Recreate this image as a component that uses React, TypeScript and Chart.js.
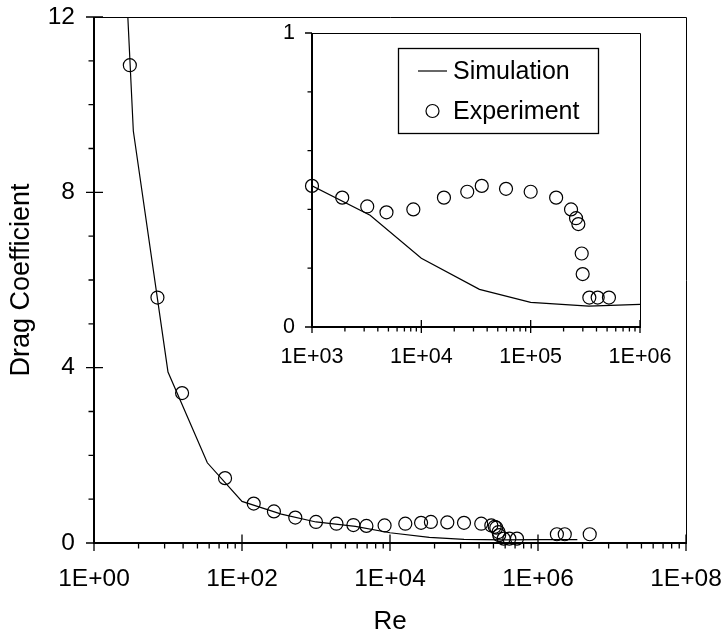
import React, { useEffect, useRef } from "react";
import { Chart, registerables } from "chart.js";

Chart.register(...registerables);

// ---- data ----
const simRe = [1, 3.4, 10, 34, 100, 340, 1000, 3400, 10000, 34000, 100000, 340000, 1000000, 3400000];
const simCd = [28, 9.4, 3.9, 1.83, 0.95, 0.66, 0.48, 0.38, 0.234, 0.128, 0.084, 0.071, 0.077, 0.077];

const expRe = [3.05, 7.2, 15.5, 59, 144, 270, 525, 1000, 1890, 3200, 4800, 8450, 16100, 26300, 35700, 59500, 100000, 171000, 234000, 260000, 273000, 293000, 299000, 344000, 410000, 520000, 1800000, 2300000, 5000000];
const expCd = [10.9, 5.6, 3.42, 1.48, 0.9, 0.72, 0.58, 0.48, 0.44, 0.41, 0.39, 0.4, 0.44, 0.46, 0.48, 0.47, 0.46, 0.44, 0.4, 0.37, 0.35, 0.25, 0.18, 0.1, 0.1, 0.1, 0.2, 0.2, 0.2];

const seriesLabels = ["Simulation", "Experiment"];
const mainXTicks = [1, 1e2, 1e4, 1e6, 1e8];
const mainYTicks = [0, 4, 8, 12];
const insetXTicks = [1e3, 1e4, 1e5, 1e6];
const insetYTicks = [0, 1];
const xTitle = "Re";
const yTitle = "Drag Coefficient";

const FONT = "'Liberation Sans', Arial, Helvetica, sans-serif";

function fmtExp(v: number) {
  const e = Math.round(Math.log10(v));
  return "1E+" + String(e).padStart(2, "0");
}

// minor tick positions (axis decoration)
const mainMinorX: number[] = [];
for (let n = 0; n < 4; n++) for (let k = 2; k <= 9; k++) mainMinorX.push(Math.pow(100, n) * k * k);
const mainMinorY: number[] = [];
for (let v = 1; v < 12; v++) if (v % 4 !== 0) mainMinorY.push(v);
const insetMinorX: number[] = [];
for (let n = 3; n < 6; n++) for (let k = 2; k <= 9; k++) insetMinorX.push(Math.pow(10, n) * k);
const insetMinorY = [0.2, 0.4, 0.6, 0.8];

type FrameCfg = {
  majorX: number[]; minorX: number[]; majorY: number[]; minorY: number[];
  xIn: number; xOut: number; yIn: number; yOut: number; minorLen: number;
  legend?: boolean;
};

function framePlugin(cfg: FrameCfg) {
  return {
    id: "frame",
    afterDraw(chart: any) {
      const { ctx, chartArea: a, scales } = chart;
      const xs = scales.x, ys = scales.y;
      ctx.save();
      ctx.strokeStyle = "#000";
      // top/right frame
      ctx.lineWidth = 1;
      ctx.beginPath();
      ctx.moveTo(a.left, Math.round(a.top) + 0.5);
      ctx.lineTo(Math.round(a.right) + 0.5, Math.round(a.top) + 0.5);
      ctx.lineTo(Math.round(a.right) + 0.5, a.bottom);
      ctx.stroke();
      // axes
      ctx.lineWidth = 2;
      ctx.beginPath();
      ctx.moveTo(a.left, a.top);
      ctx.lineTo(a.left, a.bottom);
      ctx.lineTo(a.right + 1, a.bottom);
      ctx.stroke();
      // ticks
      ctx.lineWidth = 1.3;
      ctx.beginPath();
      cfg.majorX.forEach((v) => {
        const p = xs.getPixelForValue(v);
        ctx.moveTo(p, a.bottom - cfg.xIn);
        ctx.lineTo(p, a.bottom + cfg.xOut);
      });
      cfg.minorX.forEach((v) => {
        if (v < xs.min || v > xs.max) return;
        const p = xs.getPixelForValue(v);
        ctx.moveTo(p, a.bottom);
        ctx.lineTo(p, a.bottom + cfg.minorLen);
      });
      cfg.majorY.forEach((v) => {
        const p = ys.getPixelForValue(v);
        ctx.moveTo(a.left - cfg.yOut, p);
        ctx.lineTo(a.left + cfg.yIn, p);
      });
      cfg.minorY.forEach((v) => {
        const p = ys.getPixelForValue(v);
        ctx.moveTo(a.left - cfg.minorLen, p);
        ctx.lineTo(a.left, p);
      });
      ctx.stroke();

      if (cfg.legend) {
        const ds = chart.data.datasets;
        const bx = a.left + 86, by = a.top + 15;
        const bw = a.right - 42 - bx, bh = 85;
        ctx.lineWidth = 1.3;
        ctx.strokeRect(Math.round(bx) + 0.5, Math.round(by) + 0.5, Math.round(bw), Math.round(bh));
        ctx.font = "25px " + FONT;
        ctx.fillStyle = "#000";
        ctx.textAlign = "left";
        ctx.textBaseline = "middle";
        const y1 = by + 23, y2 = by + 63;
        ctx.strokeStyle = ds[0].borderColor;
        ctx.lineWidth = ds[0].borderWidth;
        ctx.beginPath();
        ctx.moveTo(bx + 20, y1);
        ctx.lineTo(bx + 49, y1);
        ctx.stroke();
        ctx.fillText(ds[0].label, bx + 55, y1 + 1);
        ctx.strokeStyle = ds[1].pointBorderColor;
        ctx.lineWidth = ds[1].pointBorderWidth;
        ctx.beginPath();
        ctx.arc(bx + 34.5, y2, ds[1].pointRadius, 0, Math.PI * 2);
        ctx.stroke();
        ctx.fillText(ds[1].label, bx + 55, y2 + 1);
      }
      ctx.restore();
    },
  };
}

function makeDatasets(filterX?: [number, number]) {
  const sim = simRe.map((x, i) => ({ x, y: simCd[i] }));
  let exp = expRe.map((x, i) => ({ x, y: expCd[i] }));
  if (filterX) exp = exp.filter((p) => p.x >= filterX[0] && p.x <= filterX[1]);
  return [
    {
      label: seriesLabels[0],
      data: sim,
      showLine: true,
      borderColor: "#000",
      borderWidth: 1.2,
      pointRadius: 0,
      tension: 0,
    },
    {
      label: seriesLabels[1],
      data: exp,
      showLine: false,
      pointRadius: 6.5,
      pointBorderWidth: 1.2,
      pointBorderColor: "#000",
      pointBackgroundColor: "rgba(0,0,0,0)",
      borderColor: "#000",
      clip: false as any,
    },
  ];
}

// invisible grid whose tick length offsets labels without adding layout padding
function offsetGrid(len: number) {
  return { display: true, drawOnChartArea: false, drawTicks: true, tickLength: len, color: "rgba(0,0,0,0)", lineWidth: 0 };
}

export default function App() {
  const mainRef = useRef<HTMLCanvasElement>(null);
  const insetRef = useRef<HTMLCanvasElement>(null);

  useEffect(() => {
    const main = new Chart(mainRef.current as HTMLCanvasElement, {
      type: "scatter",
      data: { datasets: makeDatasets() as any },
      options: {
        animation: false,
        responsive: false,
        devicePixelRatio: 1,
        events: [],
        layout: { padding: { left: 0, right: 39, top: 17, bottom: 0 } },
        plugins: { legend: { display: false }, tooltip: { enabled: false } },
        scales: {
          x: {
            type: "logarithmic",
            min: 1,
            max: 1e8,
            afterBuildTicks: (s: any) => { s.ticks = mainXTicks.map((v) => ({ value: v })); },
            afterFit: (s: any) => { s.height = 94; },
            grid: offsetGrid(22),
            border: { display: false },
            ticks: {
              autoSkip: false, maxRotation: 0, padding: 0, color: "#000",
              font: { family: FONT, size: 24.5 },
              callback: (v: any) => fmtExp(Number(v)),
            },
            title: { display: true, text: xTitle, color: "#000", font: { family: FONT, size: 26, lineHeight: 1 }, padding: { top: 0, bottom: 2 } },
          },
          y: {
            type: "linear",
            min: 0,
            max: 12,
            afterBuildTicks: (s: any) => { s.ticks = mainYTicks.map((v) => ({ value: v })); },
            afterFit: (s: any) => { s.width = 94; },
            grid: offsetGrid(19),
            border: { display: false },
            ticks: { padding: 0, color: "#000", font: { family: FONT, size: 24.5 } },
            title: { display: true, text: yTitle, color: "#000", font: { family: FONT, size: 27, lineHeight: 1 }, padding: { top: 8, bottom: 0 } },
          },
        },
      },
      plugins: [framePlugin({
        majorX: mainXTicks, minorX: mainMinorX, majorY: mainYTicks, minorY: mainMinorY,
        xIn: 8.5, xOut: 8, yIn: 9, yOut: 8, minorLen: 5.5,
      })],
    } as any);

    const inset = new Chart(insetRef.current as HTMLCanvasElement, {
      type: "scatter",
      data: { datasets: makeDatasets([1e3, 1e6]) as any },
      options: {
        animation: false,
        responsive: false,
        devicePixelRatio: 1,
        events: [],
        layout: { padding: { left: 0, right: 35, top: 13, bottom: 0 } },
        plugins: { legend: { display: false }, tooltip: { enabled: false } },
        scales: {
          x: {
            type: "logarithmic",
            min: 1e3,
            max: 1e6,
            afterBuildTicks: (s: any) => { s.ticks = insetXTicks.map((v) => ({ value: v })); },
            afterFit: (s: any) => { s.height = 49; },
            grid: offsetGrid(17),
            border: { display: false },
            ticks: {
              autoSkip: false, maxRotation: 0, padding: 0, color: "#000",
              font: { family: FONT, size: 21.5 },
              callback: (v: any) => fmtExp(Number(v)),
            },
          },
          y: {
            type: "linear",
            min: 0,
            max: 1,
            afterBuildTicks: (s: any) => { s.ticks = insetYTicks.map((v) => ({ value: v })); },
            afterFit: (s: any) => { s.width = 52; },
            grid: offsetGrid(17),
            border: { display: false },
            ticks: { padding: 0, color: "#000", font: { family: FONT, size: 21.5 } },
          },
        },
      },
      plugins: [framePlugin({
        majorX: insetXTicks, minorX: insetMinorX, majorY: insetYTicks, minorY: insetMinorY,
        xIn: 7, xOut: 6, yIn: 0, yOut: 7, minorLen: 4.5, legend: true,
      })],
    } as any);

    return () => {
      main.destroy();
      inset.destroy();
    };
  }, []);

  return (
    <div style={{ position: "absolute", left: 0, top: 0, width: 725, height: 637, background: "#fff" }}>
      <canvas ref={mainRef} width={725} height={637} style={{ position: "absolute", left: 0, top: 0 }} />
      <canvas ref={insetRef} width={415} height={356} style={{ position: "absolute", left: 260, top: 20 }} />
    </div>
  );
}
